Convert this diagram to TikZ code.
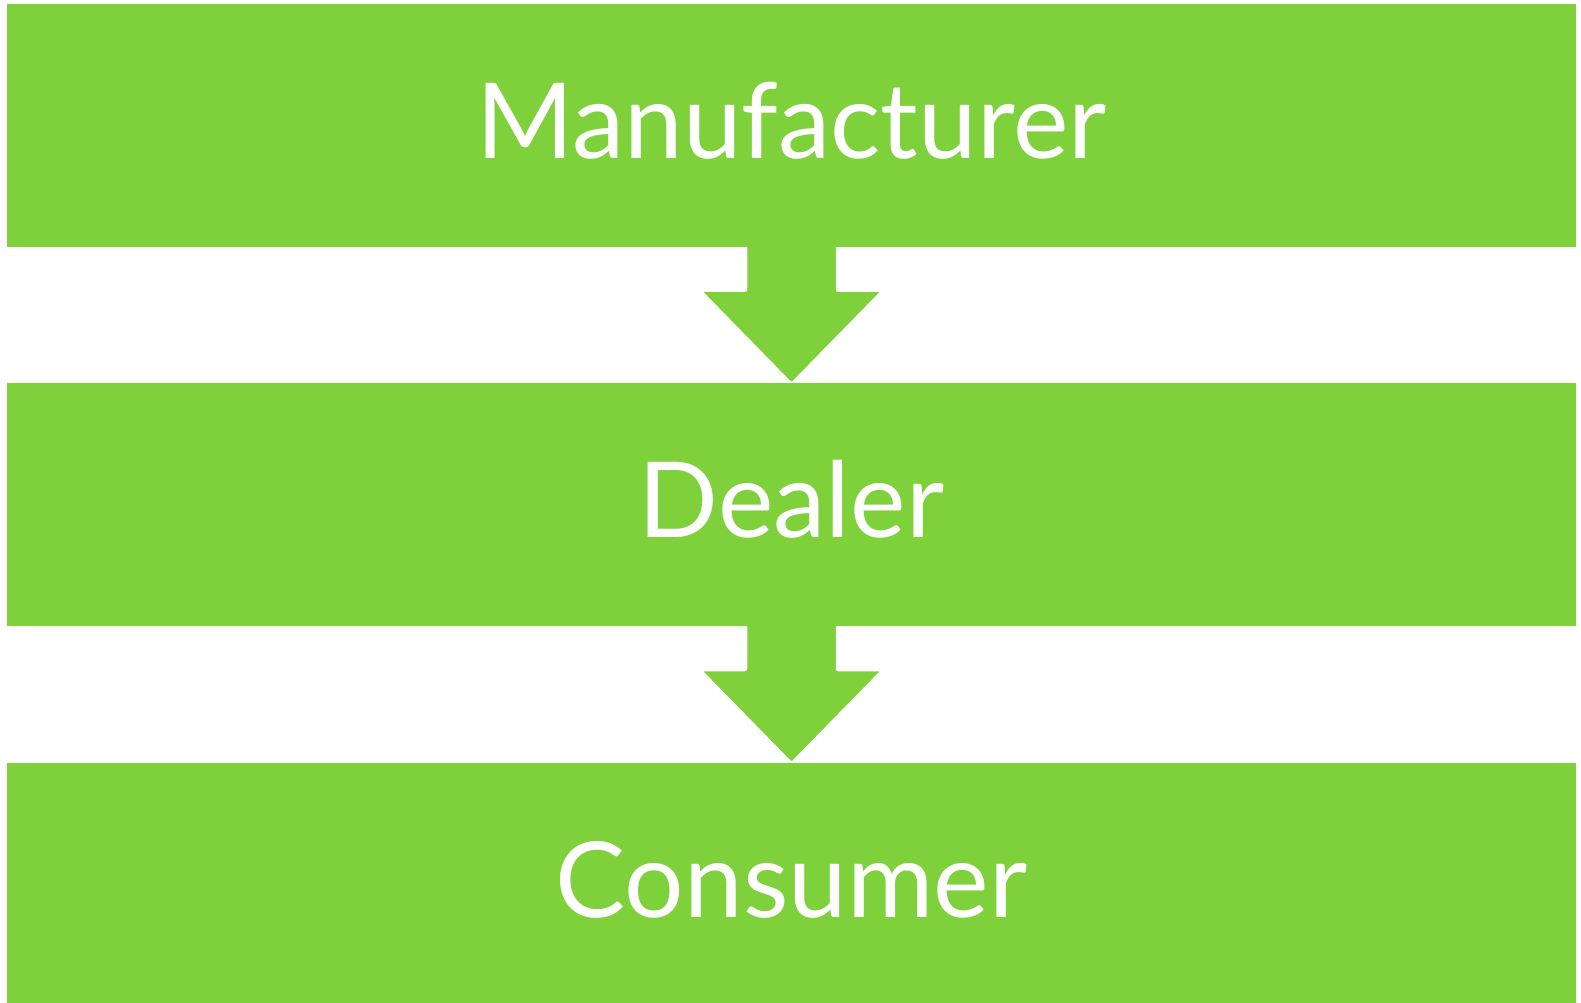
\documentclass[tikz,border=0pt]{standalone}
\usepackage{fontspec}
\setmainfont{Lato}
\usetikzlibrary{positioning,calc}

\definecolor{leafgreen}{HTML}{7FD13B}

\tikzset{
  stage/.style={fill=leafgreen, text=white, minimum width=1569pt, minimum height=243pt,
    inner sep=0pt, text height=80pt, text depth=14pt,
    font=\fontsize{105}{120}\selectfont},
  flowfill/.style={fill=leafgreen, rounded corners=2pt},
  flowedge/.style={draw=white, line width=1.5pt, rounded corners=2pt}
}

\begin{document}
\begin{tikzpicture}[x=1pt,y=-1pt]
  \useasboundingbox (0,0) rectangle (1581,1003);
  % the three stages
  \node[stage] (mfr) at (791.5,125.5) {Manufacturer};
  \node[stage, below=136pt of mfr] (dealer) {Dealer};
  \node[stage, below=136pt of dealer] (consumer) {Consumer};
  % block arrows between the stages
  \foreach \a/\b in {mfr/dealer, dealer/consumer} {
    \coordinate (tl) at ($(\a.south)+(-45,-3)$);
    \coordinate (tr) at ($(\a.south)+(45,-3)$);
    \coordinate (ml) at ($(\a.south)+(-45,44)$);
    \coordinate (mr) at ($(\a.south)+(45,44)$);
    \coordinate (hl) at ($(\a.south)+(-90,44)$);
    \coordinate (hr) at ($(\a.south)+(90,44)$);
    \coordinate (tip) at (\b.north);
    \fill[flowfill] (tl) -- (ml) -- (hl) -- (tip) -- (hr) -- (mr) -- (tr) -- cycle;
    \draw[flowedge] ($(tl)+(0,3)$) -- (ml) -- (hl) -- (tip) -- (hr) -- (mr) -- ($(tr)+(0,3)$);
  }
\end{tikzpicture}
\end{document}
